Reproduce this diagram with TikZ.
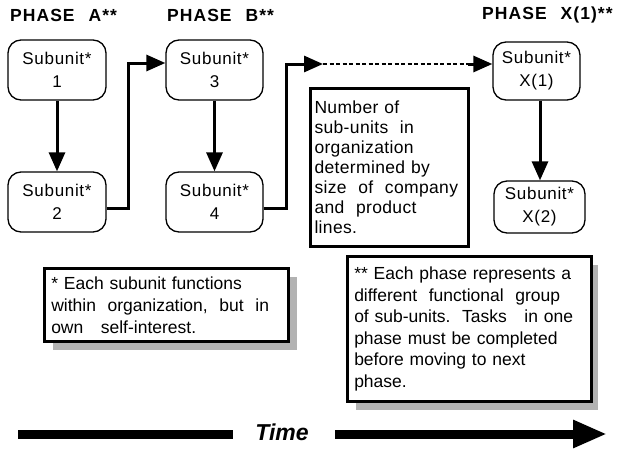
\documentclass[tikz,border=0pt]{standalone}
\usepackage{fontspec}
\setmainfont{Liberation Sans}
\newfontfamily\boxfont[LetterSpace=4]{Liberation Sans}
\newfontfamily\titlefont[LetterSpace=6]{Liberation Sans}
\newfontfamily\bodyfont[LetterSpace=2]{Liberation Sans}
\usetikzlibrary{arrows.meta}
\begin{document}
\begin{tikzpicture}[x=1pt,y=-1pt,
 unit/.style={draw, line width=1.3pt, rounded corners=13pt, minimum width=98pt, minimum height=60pt, align=center, font=\boxfont\fontsize{17}{23}\selectfont, inner sep=0pt},
 conn/.style={line width=3pt, -{Triangle[width=16pt,length=19pt]}},
 phasetitle/.style={anchor=west, font=\titlefont\bfseries\fontsize{17.5}{20}\selectfont, inner sep=0pt},
 note/.style={draw, line width=2.5pt, fill=white, align=left, anchor=north west, inner ysep=0pt, font=\fontsize{17.5}{22}\selectfont},
 shade/.style={fill=gray!60},
 timebar/.style={line width=9pt}]

\useasboundingbox (0,0) rectangle (629,450);

% phase titles
\node[phasetitle] (pa) at (10,15) {PHASE\hspace{14pt}A**};
\node[phasetitle] (pb) at (167,15) {PHASE\hspace{14pt}B**};
\node[phasetitle] (px) at (482,15) {PHASE\hspace{14pt}X(1)**};

% subunits
\node[unit] (u1) at (57,70) {Subunit*\\1};
\node[unit] (u2) at (57,202) {Subunit*\\2};
\node[unit, minimum width=97pt] (u3) at (214.5,70) {Subunit*\\3};
\node[unit, minimum width=97pt] (u4) at (214.5,202) {Subunit*\\4};
\node[unit, minimum width=87pt, minimum height=58pt] (x1) at (536.5,71) {Subunit*\\X(1)};
\node[unit, minimum width=91pt, minimum height=52pt] (x2) at (539.5,207) {Subunit*\\X(2)};

% connectors
\draw[conn] (u1) -- (u2);
\draw[conn] (u3) -- (u4);
\draw[conn] (x1.south -| 540,0) -- (x2.north -| 540,0);
\draw[conn] ([yshift=-6pt]u2.east) -- ++(22,0) |- ([yshift=7pt]u3.west);
\coordinate (c1) at (323,64);
\coordinate (c2) at (468,64);
\draw[conn] ([yshift=-6pt]u4.east) -- ++(23,0) |- (c1);
\draw[line width=2.5pt, dash pattern=on 4pt off 2.5pt] (c1) -- (c2);
\draw[conn] (c2) -- ([yshift=7pt]x1.west);

% number box
\node[draw, line width=3pt, anchor=north west, minimum width=158pt, minimum height=158pt,
      text width=150pt, inner xsep=4pt, align=left, font=\bodyfont\fontsize{17.5}{20}\selectfont] (num) at (309,87)
 {Number of\\sub-units\ \ in\\organization\\determined\ by\\size\ \ of\ \ company\\and\ \ product\\lines.};

% footnote 1
\fill[shade] (53,277) rectangle (297,350);
\node[note, minimum width=244pt, minimum height=73pt, text width=230pt, inner xsep=7pt] (n1) at (43,267)
 {* Each subunit functions\\within\ \ organization,\ \ but\ \ in\\own\ \ \ self-interest.};

% footnote 2
\fill[shade] (356,265) rectangle (598,410);
\node[note, minimum width=244pt, minimum height=145pt, text width=230pt, inner xsep=7pt,
      font=\fontsize{17.5}{21.5}\selectfont] (n2) at (346,255)
 {** Each phase represents a\\different\ \ functional\ \ group\\of sub-units.\ \ Tasks\ \ \ in one\\phase must be completed\\before moving to next\\phase.};

% time arrow
\node[font=\bfseries\itshape\fontsize{23}{26}\selectfont, inner sep=0pt] (time) at (282,432) {Time};
\coordinate (tl) at (18,434);
\coordinate (tle) at (233,434);
\coordinate (trs) at (335,434);
\coordinate (tr) at (607,434);
\draw[timebar] (tl) -- (tle);
\draw[timebar, -{Triangle[width=26pt,length=34pt]}] (trs) -- (tr);
\end{tikzpicture}
\end{document}
